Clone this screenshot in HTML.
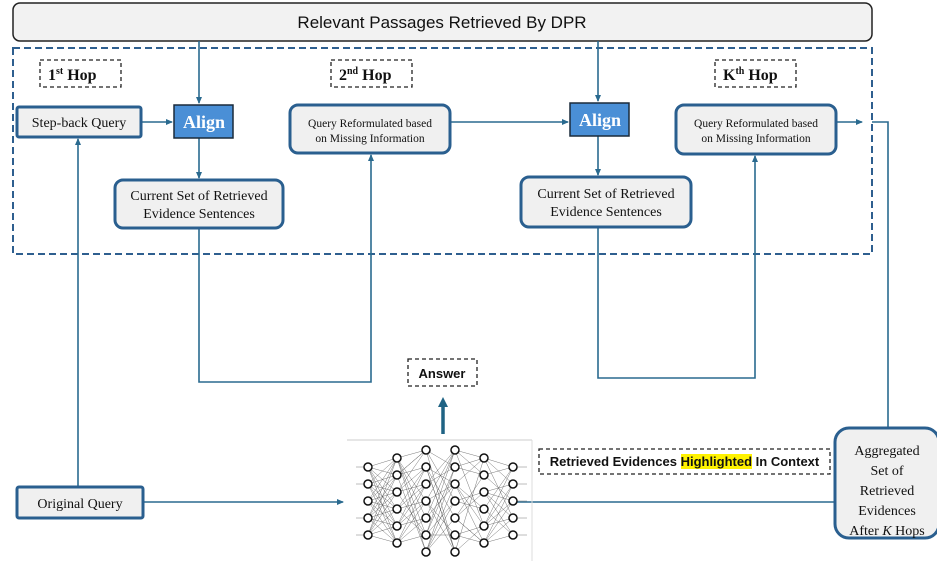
<!DOCTYPE html>
<html><head><meta charset="utf-8"><style>
html,body{margin:0;padding:0;background:#fff;}
svg{display:block;}
.t{font-family:"Liberation Serif",serif;fill:#111;}
.s{font-family:"Liberation Sans",sans-serif;}
#rev{position:absolute;left:539px;top:449px;width:291px;height:25px;line-height:25px;text-align:center;font-family:"Liberation Sans",sans-serif;font-weight:bold;font-size:13px;color:#111;white-space:nowrap;}
#rev span{background:#fff200;}
</style></head><body>
<svg width="937" height="561" viewBox="0 0 937 561" xmlns="http://www.w3.org/2000/svg">
<defs>
<marker id="a" markerWidth="8" markerHeight="8" refX="6" refY="3" orient="auto" markerUnits="userSpaceOnUse"><path d="M0,0 L7,3 L0,6 z" fill="#2a6a8f"/></marker>
<marker id="b" markerWidth="12" markerHeight="12" refX="5" refY="5" orient="auto" markerUnits="userSpaceOnUse"><path d="M0,0 L10,5 L0,10 z" fill="#1f6384"/></marker>
</defs>
<rect x="13" y="3" width="859" height="38" rx="7" fill="#f2f2f2" stroke="#222" stroke-width="1.5"/>
<text x="442" y="28" text-anchor="middle" class="s" font-size="17" fill="#111">Relevant Passages Retrieved By DPR</text>
<rect x="13" y="48" width="859" height="206" fill="none" stroke="#2e5f8f" stroke-width="2" stroke-dasharray="7,4"/>
<g fill="none" stroke="#222" stroke-width="1.3" stroke-dasharray="4,3">
<rect x="40" y="60" width="81" height="27"/><rect x="331" y="60" width="81" height="27"/><rect x="715" y="60" width="81" height="27"/>
<rect x="408" y="359" width="69" height="27"/><rect x="539" y="449" width="291" height="25"/>
</g>
<g class="t" font-weight="bold" font-size="16">
<text x="48" y="80">1<tspan font-size="10" dy="-6">st</tspan><tspan dy="6"> Hop</tspan></text>
<text x="339" y="80">2<tspan font-size="10" dy="-6">nd</tspan><tspan dy="6"> Hop</tspan></text>
<text x="723" y="80">K<tspan font-size="10" dy="-6">th</tspan><tspan dy="6"> Hop</tspan></text>
</g>
<text x="442" y="378" text-anchor="middle" class="s" font-weight="bold" font-size="13" fill="#111">Answer</text>
<g fill="none" stroke="#2a6a8f" stroke-width="1.6">
<line x1="199" y1="41" x2="199" y2="103" marker-end="url(#a)"/>
<line x1="598" y1="41" x2="598" y2="101" marker-end="url(#a)"/>
<line x1="141" y1="122" x2="172" y2="122" marker-end="url(#a)"/>
<line x1="199" y1="138" x2="199" y2="178" marker-end="url(#a)"/>
<line x1="598" y1="136" x2="598" y2="175" marker-end="url(#a)"/>
<line x1="450" y1="122" x2="568" y2="122" marker-end="url(#a)"/>
<line x1="836" y1="122" x2="862" y2="122" marker-end="url(#a)"/>
<polyline points="872,122 888,122 888,453" marker-end="url(#a)"/>
<polyline points="199,228 199,382 371,382 371,155" marker-end="url(#a)"/>
<polyline points="598,227 598,378 755,378 755,156" marker-end="url(#a)"/>
<line x1="78" y1="487" x2="78" y2="139" marker-end="url(#a)"/>
<line x1="143" y1="502" x2="343" y2="502" marker-end="url(#a)"/>
<line x1="835" y1="502" x2="510" y2="502" marker-end="url(#a)"/>
</g>
<line x1="443" y1="434" x2="443" y2="402" stroke="#1f6384" stroke-width="3.5" marker-end="url(#b)"/>
<g fill="#f0f0f0" stroke="#2a5f8f" stroke-width="3">
<rect x="17" y="107" width="124" height="30" rx="2"/>
<rect x="115" y="180" width="168" height="48" rx="8"/>
<rect x="290" y="105" width="160" height="48" rx="8"/>
<rect x="521" y="177" width="170" height="50" rx="8"/>
<rect x="676" y="105" width="160" height="49" rx="8"/>
<rect x="17" y="487" width="126" height="31" rx="2"/>
<rect x="835" y="428" width="104" height="110" rx="14"/>
</g>
<rect x="174" y="105" width="59" height="33" fill="#4a8fd6" stroke="#1a2a3a" stroke-width="1.5"/>
<rect x="570" y="103" width="59" height="33" fill="#4a8fd6" stroke="#1a2a3a" stroke-width="1.5"/>
<g class="t" text-anchor="middle">
<text x="204" y="128" font-size="18" font-weight="bold" style="fill:#fff">Align</text>
<text x="600" y="126" font-size="18" font-weight="bold" style="fill:#fff">Align</text>
<text x="79" y="127" font-size="14">Step-back Query</text>
<text x="80" y="508" font-size="14">Original Query</text>
<text x="199" y="200" font-size="14">Current Set of Retrieved</text>
<text x="199" y="218" font-size="14">Evidence Sentences</text>
<text x="606" y="198" font-size="14">Current Set of Retrieved</text>
<text x="606" y="216" font-size="14">Evidence Sentences</text>
<text x="370" y="127" font-size="11.5">Query Reformulated based</text>
<text x="370" y="142" font-size="11.5">on Missing Information</text>
<text x="756" y="127" font-size="11.5">Query Reformulated based</text>
<text x="756" y="142" font-size="11.5">on Missing Information</text>
<text x="887" y="455" font-size="14">Aggregated</text>
<text x="887" y="475" font-size="14">Set of</text>
<text x="887" y="495" font-size="14">Retrieved</text>
<text x="887" y="515" font-size="14">Evidences</text>
<text x="887" y="535" font-size="14">After <tspan font-style="italic">K</tspan> Hops</text>
</g>
<line x1="347" y1="440" x2="532" y2="440" stroke="#ccc"/>
<line x1="532" y1="440" x2="532" y2="561" stroke="#ddd"/>
<g stroke="#555" stroke-width="0.4">
<path d="
M368,467 L397,458 M368,467 L397,475 M368,467 L397,492 M368,467 L397,509 M368,467 L397,526 M368,467 L397,543
M368,484 L397,458 M368,484 L397,475 M368,484 L397,492 M368,484 L397,509 M368,484 L397,526 M368,484 L397,543
M368,501 L397,458 M368,501 L397,475 M368,501 L397,492 M368,501 L397,509 M368,501 L397,526 M368,501 L397,543
M368,518 L397,458 M368,518 L397,475 M368,518 L397,492 M368,518 L397,509 M368,518 L397,526 M368,518 L397,543
M368,535 L397,458 M368,535 L397,475 M368,535 L397,492 M368,535 L397,509 M368,535 L397,526 M368,535 L397,543
M397,458 L426,450 L397,475 L426,467 L397,492 L426,484 L397,509 L426,501 L397,526 L426,518 L397,543 L426,535 L397,458 L426,552 L397,475 L426,450 L397,492 L426,535 L397,509 L426,467 L397,526 L426,484 L397,543 L426,501 L397,458 L426,518
M426,450 L455,467 L426,484 L455,450 L426,518 L455,484 L426,552 L455,518 L426,467 L455,552 L426,501 L455,535 L426,535 L455,501 L426,450 L455,552 L426,467 L455,484 L426,501 L455,450 L426,535 L455,467 L426,552 L455,501
M455,450 L484,475 L455,467 L484,458 L455,484 L484,509 L455,501 L484,492 L455,518 L484,543 L455,535 L484,526 L455,552 L484,458 L455,450 L484,526 L455,484 L484,543 L455,518 L484,475
M484,458 L513,467 L484,475 L513,501 L484,492 L513,535 L484,509 L513,467 L484,526 L513,518 L484,543 L513,484 L484,458 L513,518 L484,492 L513,484 L484,526 L513,501 L484,543 L513,535
M356,467 H368 M356,484 H368 M356,518 H368 M356,535 H368 M513,467 H527 M513,484 H527 M513,501 H527 M513,518 H527 M513,535 H527" fill="none"/>
</g>
<g fill="#fff" stroke="#111" stroke-width="1.5">
<circle cx="368" cy="467" r="4"/><circle cx="368" cy="484" r="4"/><circle cx="368" cy="501" r="4"/><circle cx="368" cy="518" r="4"/><circle cx="368" cy="535" r="4"/>
<circle cx="397" cy="458" r="4"/><circle cx="397" cy="475" r="4"/><circle cx="397" cy="492" r="4"/><circle cx="397" cy="509" r="4"/><circle cx="397" cy="526" r="4"/><circle cx="397" cy="543" r="4"/>
<circle cx="426" cy="450" r="4"/><circle cx="426" cy="467" r="4"/><circle cx="426" cy="484" r="4"/><circle cx="426" cy="501" r="4"/><circle cx="426" cy="518" r="4"/><circle cx="426" cy="535" r="4"/><circle cx="426" cy="552" r="4"/>
<circle cx="455" cy="450" r="4"/><circle cx="455" cy="467" r="4"/><circle cx="455" cy="484" r="4"/><circle cx="455" cy="501" r="4"/><circle cx="455" cy="518" r="4"/><circle cx="455" cy="535" r="4"/><circle cx="455" cy="552" r="4"/>
<circle cx="484" cy="458" r="4"/><circle cx="484" cy="475" r="4"/><circle cx="484" cy="492" r="4"/><circle cx="484" cy="509" r="4"/><circle cx="484" cy="526" r="4"/><circle cx="484" cy="543" r="4"/>
<circle cx="513" cy="467" r="4"/><circle cx="513" cy="484" r="4"/><circle cx="513" cy="501" r="4"/><circle cx="513" cy="518" r="4"/><circle cx="513" cy="535" r="4"/>
</g>
</svg>
<div id="rev">Retrieved Evidences <span>Highlighted</span> In Context</div>
</body></html>
